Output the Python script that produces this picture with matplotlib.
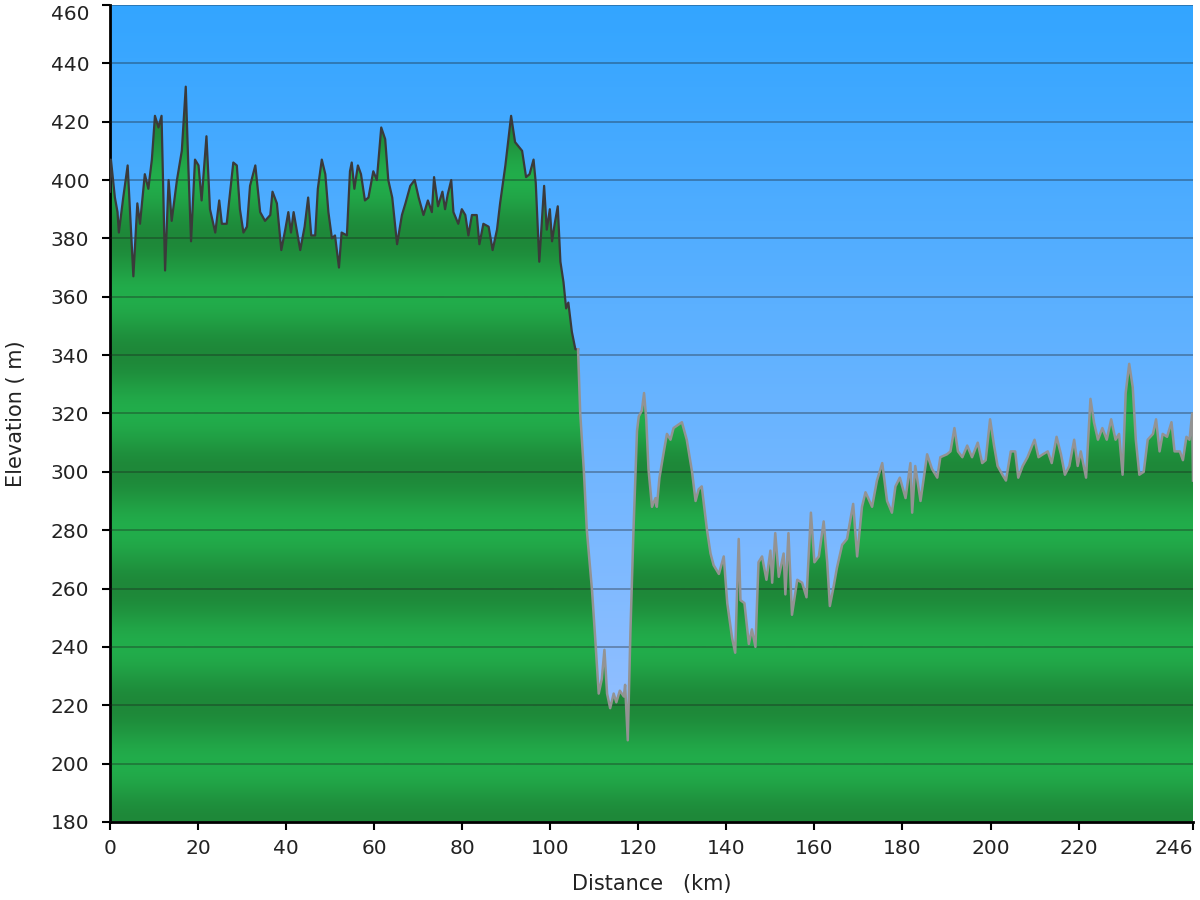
import numpy as np
import matplotlib
matplotlib.use('Agg')
import matplotlib.pyplot as plt
from matplotlib.colors import LinearSegmentedColormap
from matplotlib.patches import Polygon

# distance along the route (km) and elevation (m)
km = [0.0, 0.2, 1.1, 1.7, 2.0, 3.0, 4.0, 5.3, 6.2, 6.8, 7.9, 8.7, 9.5, 10.2, 11.0, 11.7,
      12.5, 13.3, 14.0, 15.2, 16.3, 17.2, 17.8, 18.4, 19.3, 20.1, 20.8, 21.9, 22.7, 23.9,
      24.8, 25.4, 26.5, 28.0, 28.8, 29.5, 30.3, 31.1, 31.8, 33.0, 34.1, 35.2, 36.4, 36.9,
      37.9, 38.9, 39.8, 40.5, 41.1, 41.7, 43.2, 44.2, 45.0, 45.7, 46.6, 47.2, 48.1, 48.9,
      49.6, 50.4, 51.1, 52.0, 52.6, 53.8, 54.5, 54.9, 55.5, 56.3, 57.0, 57.9, 58.7, 59.8,
      60.6, 61.6, 62.5, 63.2, 64.1, 65.2, 66.3, 67.1, 68.2, 69.2, 70.1, 71.2, 72.2, 73.1,
      73.6, 74.5, 75.5, 76.1, 76.7, 77.5, 78.0, 79.1, 79.9, 80.7, 81.4, 82.2, 83.3, 83.9,
      84.8, 86.0, 86.9, 87.9, 88.6, 89.8, 91.1, 92.0, 93.6, 94.5, 95.3, 96.2, 96.7, 97.5,
      98.6, 99.2, 99.9, 100.4, 101.0, 101.7, 102.3, 103.0, 103.6, 104.1, 104.9, 105.7,
      106.3, 106.8, 107.6, 108.3, 109.5, 110.2, 111.0, 111.7, 112.3, 112.9, 113.6, 114.4,
      115.0, 115.8, 116.7, 117.0, 117.6, 118.2, 118.9, 119.7, 120.1, 120.8, 121.3, 121.8,
      122.3, 123.1, 123.9, 124.2, 124.8, 125.8, 126.5, 127.3, 128.0, 129.9, 131.0, 132.2,
      133.0, 133.7, 134.4, 135.6, 136.4, 137.1, 138.3, 139.4, 140.2, 141.3, 142.0, 142.8,
      143.2, 144.1, 145.1, 145.8, 146.6, 147.3, 148.1, 149.1, 150.0, 150.4, 151.1, 151.9,
      153.0, 153.4, 154.1, 154.9, 156.1, 157.2, 158.2, 159.2, 160.0, 161.0, 162.1, 162.9,
      163.5, 164.4, 165.1, 166.3, 167.4, 168.8, 169.7, 170.8, 171.6, 173.1, 174.2, 175.4,
      176.5, 177.6, 178.4, 179.4, 180.7, 181.8, 182.2, 182.9, 184.1, 185.6, 186.7, 187.9,
      188.6, 190.1, 190.9, 191.8, 192.6, 193.6, 194.7, 195.8, 197.1, 198.1, 198.9, 199.9,
      200.8, 201.6, 202.7, 203.5, 204.6, 205.6, 206.3, 207.3, 208.4, 210.0, 210.9, 211.9,
      213.0, 213.9, 215.0, 216.0, 216.9, 217.9, 219.0, 219.8, 220.5, 221.7, 222.7, 223.5,
      224.4, 225.4, 226.4, 227.4, 228.4, 229.2, 230.0, 230.7, 231.5, 232.3, 233.0, 233.8,
      234.8, 235.7, 236.9, 237.6, 238.4, 239.1, 240.1, 241.1, 241.8, 243.0, 243.7, 244.5,
      245.2, 245.8, 246.0]
elev = [396, 407, 394, 389, 382, 394, 405, 367, 392, 385, 402, 397, 407, 422, 418, 422,
        369, 400, 386, 400, 410, 432, 404, 379, 407, 405, 393, 415, 390, 382,
        393, 385, 385, 406, 405, 390, 382, 384, 398, 405, 389, 386, 388, 396,
        392, 376, 383, 389, 382, 389, 376, 384, 394, 381, 381, 397, 407, 402,
        389, 380, 381, 370, 382, 381, 403, 406, 397, 405, 402, 393, 394, 403,
        400, 418, 414, 400, 394, 378, 388, 392, 398, 400, 394, 388, 393, 389,
        401, 391, 396, 390, 395, 400, 389, 385, 390, 388, 381, 388, 388, 378,
        385, 384, 376, 383, 392, 405, 422, 413, 410, 401, 402, 407, 399, 372,
        398, 383, 390, 379, 385, 391, 372, 365, 356, 358, 348, 342,
        342, 320, 301, 280, 259, 243, 224, 229, 239, 224, 219, 224,
        221, 225, 223, 227, 208, 245, 280, 314, 319, 321, 327, 318,
        301, 288, 291, 288, 298, 307, 313, 311, 315, 317, 311, 300,
        290, 294, 295, 280, 272, 268, 265, 271, 255, 243, 238, 277,
        256, 255, 241, 246, 240, 269, 271, 263, 273, 262, 279, 264,
        272, 258, 279, 251, 263, 262, 257, 286, 269, 271, 283, 269,
        254, 261, 267, 275, 277, 289, 271, 288, 293, 288, 297, 303,
        290, 286, 295, 298, 291, 303, 286, 302, 290, 306, 301, 298,
        305, 306, 307, 315, 307, 305, 309, 305, 310, 303, 304, 318,
        309, 302, 299, 297, 307, 307, 298, 302, 305, 311, 305, 306,
        307, 303, 312, 306, 299, 302, 311, 302, 307, 298, 325, 317,
        311, 315, 311, 318, 311, 313, 299, 327, 337, 329, 311, 299,
        300, 311, 313, 318, 307, 313, 312, 317, 307, 307, 304, 312,
        311, 320, 297]

xticks = [0, 20, 40, 60, 80, 100, 120, 140, 160, 180, 200, 220, 246]
yticks = list(range(180, 461, 20))

fig = plt.figure(figsize=(12, 9), dpi=100)
ax = fig.add_axes([0.0917, 0.0867, 0.9025, 0.9078])
ax.set_xlim(0, 246)
ax.set_ylim(180, 460)

# sky gradient
sky = LinearSegmentedColormap.from_list('sky', ['#a0c3ff', '#33a5ff'])
ax.imshow(np.linspace(0, 1, 256).reshape(-1, 1), cmap=sky, origin='lower',
          extent=[0, 246, 180, 460], aspect='auto', zorder=0)

# green fill with horizontal bands (light at 200, 240, ... dark at 180, 220, ...)
h = np.linspace(180, 460, 1400)
band = 0.5 - 0.5 * np.cos(2 * np.pi * (h - 180) / 40)
green = LinearSegmentedColormap.from_list('green', ['#1e8839', '#22ad4b'])
im = ax.imshow(band.reshape(-1, 1), cmap=green, origin='lower', vmin=0, vmax=1,
               extent=[0, 246, 180, 460], aspect='auto', zorder=1)
verts = [(km[0], 180)] + list(zip(km, elev)) + [(km[-1], 180)]
poly = Polygon(verts, closed=True, facecolor='none', edgecolor='none')
ax.add_patch(poly)
im.set_clip_path(poly)

# outline: dark up to the descent, grey afterwards
split = km.index(106.3)
ax.plot(km[:split + 1], elev[:split + 1], color='#3a3a3a', lw=1.6, zorder=3)
ax.plot(km[split:], elev[split:], color='#939393', lw=1.8, zorder=3)

ax.set_axisbelow(False)
ax.yaxis.grid(True, color='#1a1a1a', alpha=0.35, lw=1.3)
ax.xaxis.grid(False)

ax.set_xticks(xticks)
ax.set_yticks(yticks)
ax.tick_params(direction='out', length=6, width=1.5, labelsize=14.5,
               labelcolor='#222222')
ax.tick_params(axis='y', pad=9)
ax.tick_params(axis='x', pad=6)
ax.get_xticklabels()[-1].set_horizontalalignment('right')
ax.get_yticklabels()[-1].set_verticalalignment('top')
for s in ['top', 'right']:
    ax.spines[s].set_visible(False)
for s in ['left', 'bottom']:
    ax.spines[s].set_linewidth(2)

ax.set_xlabel('Distance   (km)', fontsize=15, color='#222222', labelpad=12)
ax.set_ylabel('Elevation ( m)', fontsize=15, color='#222222', labelpad=18)

fig.savefig('out.png', dpi=100)
